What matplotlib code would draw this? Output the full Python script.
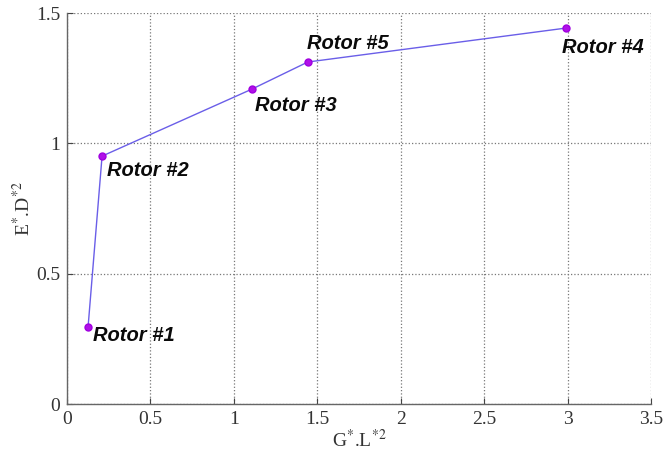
import matplotlib
matplotlib.use("Agg")
import matplotlib.pyplot as plt

labels = ["Rotor #1", "Rotor #2", "Rotor #3", "Rotor #5", "Rotor #4"]
gl = [0.126, 0.21, 1.108, 1.443, 2.988]
ed = [0.295, 0.951, 1.208, 1.312, 1.442]
# text offsets in pixels (dx, dy) relative to each point
offsets = [(5, -8), (5, -14), (3, -16), (-1, 19), (-4, -19)]

xticks = [0, 0.5, 1, 1.5, 2, 2.5, 3, 3.5]
xticklabels = ["0", "0.5", "1", "1.5", "2", "2.5", "3", "3.5"]
yticks = [0, 0.5, 1, 1.5]
yticklabels = ["0", "0.5", "1", "1.5"]

plt.rcParams['mathtext.fontset'] = 'stix'
plt.rcParams['font.family'] = 'Liberation Serif'

fig = plt.figure(figsize=(6.65, 4.61), dpi=100)
ax = fig.add_axes([0.1008, 0.1236, 0.8782, 0.8482])

ax.plot(gl, ed, color='#6a5ee8', lw=1.0, zorder=3)
ax.plot(gl, ed, 'o', color='#b010e8', ms=5, mec='#a000e0', zorder=4)

for x, y, t, (dx, dy) in zip(gl, ed, labels, offsets):
    ax.annotate(t, (x, y), xytext=(dx, dy), textcoords='offset pixels',
                ha='left', va='center', fontsize=14.5, fontweight='bold',
                fontstyle='italic', family='Liberation Sans', color='#0a0a0a')

ax.set_xlim(0, 3.5)
ax.set_ylim(0, 1.5)
ax.set_xticks(xticks)
ax.set_xticklabels(xticklabels)
ax.set_yticks(yticks)
ax.set_yticklabels(yticklabels)
ax.grid(True, linestyle=':', color='#777777', lw=0.9)
ax.tick_params(direction='in', length=4, labelsize=14, colors='#444444',
               labelcolor='#333333', pad=5)
for s in ax.spines.values():
    s.set_color('#666666')
    s.set_linewidth(1.0)
ax.spines['top'].set_visible(False)
ax.spines['right'].set_visible(False)
ax.tick_params(top=False, right=False)

ax.set_xlabel(r'G$^{*}$.L$^{*2}$', fontsize=14, color='#333333', labelpad=1)
ax.set_ylabel(r'E$^{*}$.D$^{*2}$', fontsize=14, color='#333333', labelpad=1)

fig.savefig('out.png', dpi=100)
